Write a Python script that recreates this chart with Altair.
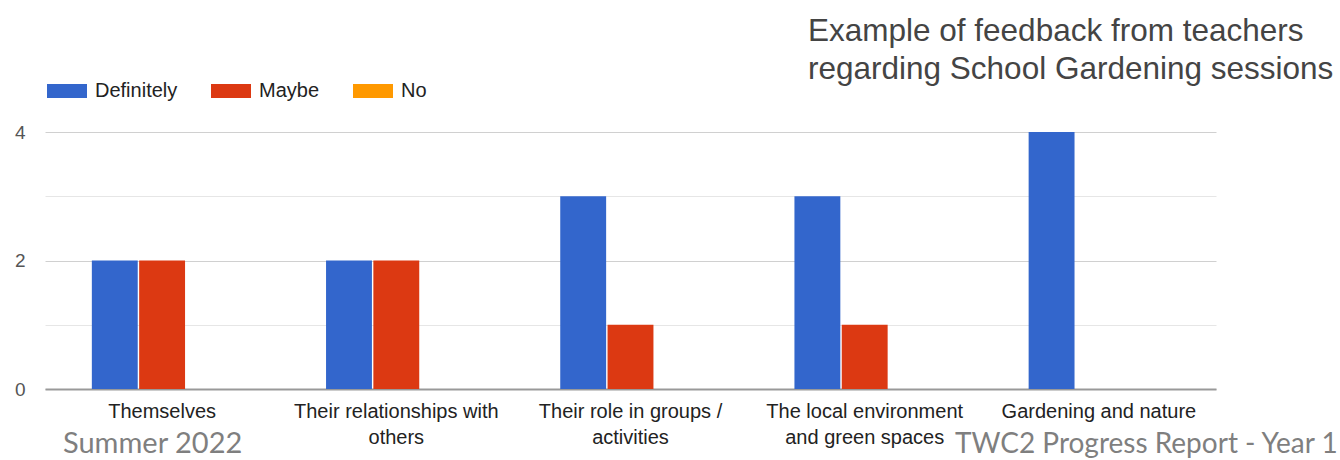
import json
import altair as alt
import pandas as pd

categories = [
    "Themselves",
    "Their relationships with others",
    "Their role in groups / activities",
    "The local environment and green spaces",
    "Gardening and nature",
]
label_lines = {
    "Their relationships with others": ["Their relationships with", "others"],
    "Their role in groups / activities": ["Their role in groups /", "activities"],
    "The local environment and green spaces": ["The local environment", "and green spaces"],
}
series = ["Definitely", "Maybe", "No"]
definitely = [2, 2, 3, 3, 4]
maybe = [2, 2, 1, 1, 0]
no = [0, 0, 0, 0, 0]
colors = ["#3366cc", "#dc3912", "#ff9900"]
title_lines = ["Example of feedback from teachers", "regarding School Gardening sessions"]
footer_left = "Summer 2022"
footer_right = "TWC2 Progress Report - Year 1"

rows = []
for s, vals in zip(series, [definitely, maybe, no]):
    for c, v in zip(categories, vals):
        rows.append({"category": c, "series": s, "value": v})
df = pd.DataFrame(rows)

expr = "datum.label"
for k, v in label_lines.items():
    expr = f"datum.label == {json.dumps(k)} ? {json.dumps(v)} : ({expr})"

W, H = 1171, 257
FONT = "Liberation Sans"

bars = alt.Chart(df).mark_bar().encode(
    x=alt.X("category:N", sort=categories,
            scale=alt.Scale(paddingInner=0.4, paddingOuter=0.2),
            axis=alt.Axis(title=None, labelAngle=0, labelFontSize=20, labelFont=FONT,
                          labelColor="#222222", labelPadding=12, labelLineHeight=26,
                          labelLimit=400, ticks=False, domain=True, domainColor="#999999",
                          domainWidth=2, labelExpr=expr)),
    xOffset=alt.XOffset("series:N", sort=series, scale=alt.Scale(paddingInner=0.03)),
    y=alt.Y("value:Q", scale=alt.Scale(domain=[0, 4], nice=False),
            axis=alt.Axis(title=None, values=[0, 1, 2, 3, 4], labelFontSize=19, labelFont=FONT,
                          labelColor="#555555", labelPadding=20, ticks=False, domain=False,
                          labelExpr="datum.value % 2 == 0 ? datum.label : ''",
                          gridColor=alt.condition("datum.value % 2 == 0", alt.value("#d0d0d0"), alt.value("#e6e6e6")))),
    color=alt.Color("series:N", sort=series,
                    scale=alt.Scale(domain=series, range=colors),
                    legend=alt.Legend(title=None, orient="none", legendX=2, legendY=-61,
                                      direction="horizontal", labelFontSize=20, labelFont=FONT,
                                      labelColor="#222222", labelOffset=8, columnPadding=33,
                                      symbolType="M-1,-0.35L1,-0.35L1,0.35L-1,0.35Z",
                                      symbolSize=1600, symbolStrokeWidth=0, padding=0)),
)

tdf = pd.DataFrame({"t": ["\n".join(title_lines)]})
title = alt.Chart(tdf).mark_text(align="left", baseline="alphabetic", fontSize=31.5, font=FONT,
                                 color="#444444", lineBreak="\n", lineHeight=38).encode(
    text="t:N", x=alt.value(763), y=alt.value(-91))

fl = pd.DataFrame({"t": [footer_left]})
fr = pd.DataFrame({"t": [footer_right]})
foot1 = alt.Chart(fl).mark_text(align="left", baseline="alphabetic", fontSize=29, font="Lato",
                                color="#7f7f7f").encode(text="t:N", x=alt.value(18), y=alt.value(321))
foot2 = alt.Chart(fr).mark_text(align="left", baseline="alphabetic", fontSize=28, font="Lato",
                                color="#7f7f7f").encode(text="t:N", x=alt.value(910), y=alt.value(321))

chart = alt.layer(bars, title, foot1, foot2).properties(
    width=W, height=H,
    autosize=alt.AutoSizeParams(type="none"),
    padding={"left": 45, "top": 132, "right": 124, "bottom": 71},
).configure(background="white").configure_view(strokeWidth=0, stroke="transparent")

chart.save("out.html", embed_options={"renderer": "svg", "actions": False})
